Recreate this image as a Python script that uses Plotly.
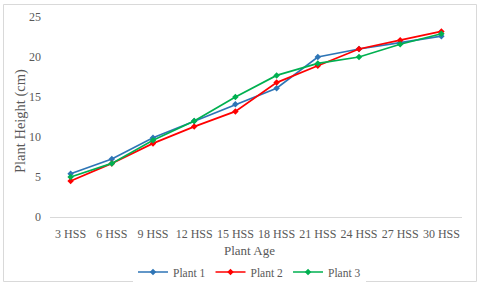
import plotly.graph_objects as go

categories = ["3 HSS", "6 HSS", "9 HSS", "12 HSS", "15 HSS", "18 HSS", "21 HSS", "24 HSS", "27 HSS", "30 HSS"]
plant1 = [5.4, 7.25, 9.9, 12.0, 14.1, 16.1, 20.0, 21.0, 21.8, 22.6]
plant2 = [4.5, 6.7, 9.2, 11.3, 13.2, 16.8, 18.9, 21.0, 22.1, 23.2]
plant3 = [5.0, 6.7, 9.6, 12.0, 15.0, 17.7, 19.2, 20.0, 21.6, 22.9]
y_ticks = [0, 5, 10, 15, 20, 25]

series = [("Plant 1", plant1, "#2E75B6"), ("Plant 2", plant2, "#FF0000"), ("Plant 3", plant3, "#00B050")]

fig = go.Figure()
for name, vals, col in series:
    fig.add_trace(go.Scatter(x=categories, y=vals, name=name, mode="lines+markers",
                             line=dict(color=col, width=1.7),
                             marker=dict(symbol="diamond", size=5, color=col)))

W, H = 480, 286
l, r, t, b = 50, 18, 17, 69
pw, ph = W - l - r, H - t - b

def px(x):
    return (x - l) / pw

def py(y):
    return (H - b - y) / ph

fig.add_shape(type="rect", xref="paper", yref="paper",
              x0=px(3.5), x1=px(476.5), y0=py(281.5), y1=py(4.5),
              line=dict(color="#D9D9D9", width=1), fillcolor="rgba(0,0,0,0)", layer="below")

fig.add_annotation(text="Plant Age", xref="paper", yref="paper", x=px(249), y=py(250),
                   xanchor="center", yanchor="middle", showarrow=False,
                   font=dict(size=13, color="#595959"))
fig.add_annotation(text="Plant Height (cm)", xref="paper", yref="paper", x=px(20), y=py(121),
                   xanchor="center", yanchor="middle", showarrow=False, textangle=-90,
                   font=dict(size=14.5, color="#595959"))

fig.update_layout(
    width=W, height=H,
    margin=dict(l=l, r=r, t=t, b=b, autoexpand=False),
    paper_bgcolor="white", plot_bgcolor="white",
    font=dict(family="Liberation Serif", size=12, color="#595959"),
    showlegend=True,
    legend=dict(orientation="h", x=px(133), xanchor="left", y=py(272), yanchor="middle",
                font=dict(size=11.5, color="#595959"), tracegroupgap=0),
    xaxis=dict(type="category", range=[-0.5, 9.5], showgrid=False, zeroline=False,
               showline=False, ticks="", tickfont=dict(size=12), automargin=False,
               ticklabelstandoff=8),
    yaxis=dict(range=[0, 25], tickvals=y_ticks, showgrid=False, zeroline=True,
               zerolinecolor="#D9D9D9", zerolinewidth=1, showline=False, ticks="",
               tickfont=dict(size=12), ticklabelstandoff=8, automargin=False),
)

fig.write_html("out.html", config={"displayModeBar": False},
               post_script="document.body.style.margin='0';document.body.style.overflow='hidden';")
